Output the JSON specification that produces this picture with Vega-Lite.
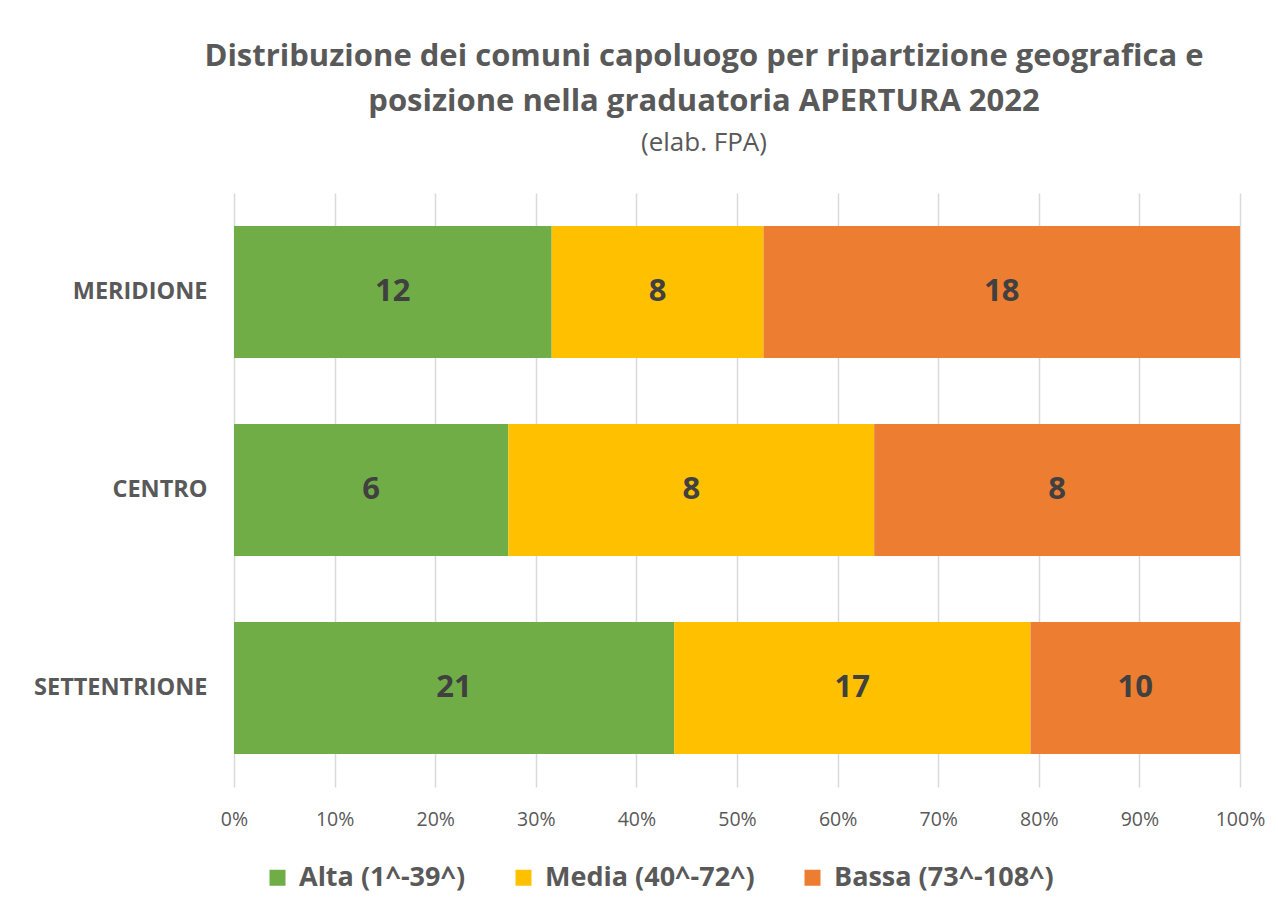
{
  "$schema": "https://vega.github.io/schema/vega-lite/v6.json",
  "width": 1006,
  "height": 594,
  "autosize": {"type": "none"},
  "padding": {"left": 234, "top": 193, "right": 38, "bottom": 127},
  "background": "white",
  "title": {
    "text": ["Distribuzione dei comuni capoluogo per ripartizione geografica e", "posizione nella graduatoria APERTURA 2022"],
    "subtitle": "(elab. FPA)",
    "font": "Open Sans",
    "fontSize": 31,
    "fontWeight": "bold",
    "color": "#595959",
    "lineHeight": 45,
    "subtitleFont": "Open Sans",
    "subtitleFontSize": 26,
    "subtitleColor": "#595959",
    "subtitlePadding": 12,
    "anchor": "middle",
    "dx": -33,
    "offset": 36
  },
  "data": {
    "values": [
      {"area": "MERIDIONE", "fascia": "Alta (1^-39^)", "rank": 1, "n": 12},
      {"area": "MERIDIONE", "fascia": "Media (40^-72^)", "rank": 2, "n": 8},
      {"area": "MERIDIONE", "fascia": "Bassa (73^-108^)", "rank": 3, "n": 18},
      {"area": "CENTRO", "fascia": "Alta (1^-39^)", "rank": 1, "n": 6},
      {"area": "CENTRO", "fascia": "Media (40^-72^)", "rank": 2, "n": 8},
      {"area": "CENTRO", "fascia": "Bassa (73^-108^)", "rank": 3, "n": 8},
      {"area": "SETTENTRIONE", "fascia": "Alta (1^-39^)", "rank": 1, "n": 21},
      {"area": "SETTENTRIONE", "fascia": "Media (40^-72^)", "rank": 2, "n": 17},
      {"area": "SETTENTRIONE", "fascia": "Bassa (73^-108^)", "rank": 3, "n": 10}
    ]
  },
  "encoding": {
    "y": {
      "field": "area",
      "type": "nominal",
      "sort": ["MERIDIONE", "CENTRO", "SETTENTRIONE"],
      "scale": {"paddingInner": 0.3333, "paddingOuter": 0.1667},
      "axis": {
        "title": null,
        "domain": false,
        "ticks": false,
        "labelFont": "Open Sans",
        "labelFontSize": 23.5,
        "labelFontWeight": "bold",
        "labelColor": "#595959",
        "labelPadding": 27
      }
    }
  },
  "layer": [
    {
      "mark": {"type": "bar"},
      "encoding": {
        "x": {
          "field": "n",
          "type": "quantitative",
          "stack": "normalize",
          "scale": {"domain": [0, 1]},
          "axis": {
            "title": null,
            "format": ".0%",
            "values": [0, 0.1, 0.2, 0.3, 0.4, 0.5, 0.6, 0.7, 0.8, 0.9, 1],
            "domain": false,
            "ticks": false,
            "grid": true,
            "gridColor": "#d9d9d9",
            "gridWidth": 1.5,
            "labelFlush": false,
            "labelFont": "Open Sans",
            "labelFontSize": 19.5,
            "labelColor": "#595959",
            "labelPadding": 23
          }
        },
        "color": {
          "field": "fascia",
          "type": "nominal",
          "scale": {
            "domain": ["Alta (1^-39^)", "Media (40^-72^)", "Bassa (73^-108^)"],
            "range": ["#70AD47", "#FFC000", "#ED7D31"]
          },
          "legend": {
            "title": null,
            "orient": "none",
            "direction": "horizontal",
            "legendX": 30,
            "legendY": 671,
            "symbolType": "square",
            "symbolSize": 256,
            "symbolStrokeWidth": 0,
            "symbolOpacity": 1,
            "labelFont": "Open Sans",
            "labelFontSize": 27,
            "labelFontWeight": "bold",
            "labelColor": "#595959",
            "labelOffset": 8,
            "columnPadding": 44,
            "labelLimit": 400
          }
        },
        "order": {"field": "rank", "type": "quantitative"}
      }
    },
    {
      "mark": {"type": "text", "font": "Open Sans", "fontSize": 31, "fontWeight": "bold", "color": "#404040"},
      "encoding": {
        "x": {"field": "n", "type": "quantitative", "stack": "normalize", "bandPosition": 0.5},
        "text": {"field": "n", "type": "quantitative"},
        "detail": {"field": "fascia", "type": "nominal"},
        "order": {"field": "rank", "type": "quantitative"}
      }
    }
  ],
  "config": {"view": {"stroke": null}}
}
